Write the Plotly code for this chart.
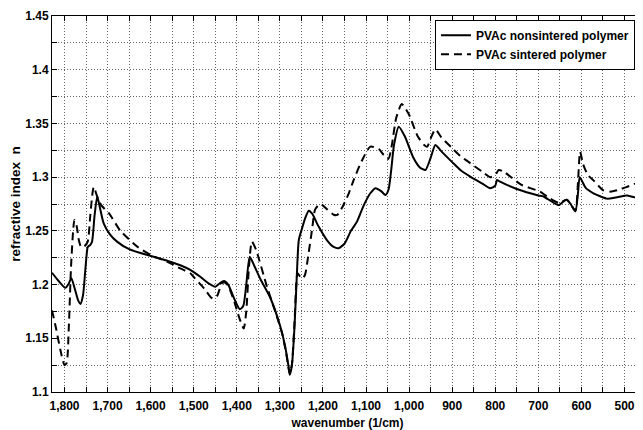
import plotly.graph_objects as go

# ---------------- data ----------------
wn_nonsintered = [1829, 1815, 1798, 1790, 1784, 1776, 1768, 1763, 1757, 1752, 1749, 1746, 1740, 1736,
                  1730, 1724, 1718, 1709, 1695, 1678, 1650, 1600, 1560, 1531, 1508, 1484, 1465, 1450,
                  1440, 1430, 1420, 1405, 1393, 1385, 1378, 1370, 1360, 1345, 1322, 1299, 1288, 1280,
                  1277, 1272, 1266, 1261, 1256, 1248, 1241, 1233, 1225, 1210, 1190, 1175, 1164, 1150,
                  1135, 1121, 1105, 1090, 1078, 1065, 1055, 1048, 1042, 1035, 1024, 1010, 990, 975,
                  962, 950, 939, 925, 900, 881, 858, 830, 812, 800, 796, 790, 750, 700, 688, 653, 640,
                  634, 625, 614, 608, 604, 598, 590, 572, 541, 520, 494, 475, 457]
n_nonsintered = [1.211, 1.204, 1.197, 1.201, 1.206, 1.196, 1.185, 1.182, 1.190, 1.212, 1.226, 1.235, 1.237, 1.240,
                 1.265, 1.282, 1.272, 1.257, 1.247, 1.240, 1.233, 1.2266, 1.222, 1.218, 1.2136, 1.207, 1.201, 1.198,
                 1.201, 1.2033, 1.200, 1.186, 1.177, 1.180, 1.200, 1.226, 1.218, 1.205, 1.1875, 1.161, 1.143, 1.124,
                 1.116, 1.125, 1.161, 1.205, 1.2415, 1.253, 1.262, 1.2688, 1.266, 1.254, 1.241, 1.235, 1.2338, 1.238,
                 1.250, 1.2586, 1.274, 1.285, 1.2897, 1.287, 1.2834, 1.288, 1.305, 1.330, 1.347, 1.338, 1.318, 1.309,
                 1.3067, 1.318, 1.330, 1.324, 1.314, 1.3067, 1.3005, 1.294, 1.2897, 1.292, 1.2974, 1.296, 1.289, 1.283, 1.282, 1.274, 1.278,
                 1.279, 1.275, 1.268, 1.285, 1.300, 1.296, 1.290, 1.285, 1.280, 1.281, 1.283, 1.281, 1.279]

wn_sintered = [1829, 1820, 1810, 1800, 1795, 1790, 1785, 1780, 1777, 1772, 1766, 1761, 1753, 1746, 1740,
               1735, 1732, 1725, 1715, 1697, 1670, 1631, 1600, 1560, 1531, 1508, 1500, 1475, 1460, 1454,
               1445, 1435, 1428, 1420, 1405, 1395, 1384, 1378, 1372, 1365, 1355, 1330, 1310, 1295, 1285,
               1277, 1272, 1266, 1262, 1259, 1252, 1246, 1241, 1233, 1225, 1218, 1206, 1190, 1175, 1167,
               1155, 1140, 1129, 1110, 1090, 1070, 1059, 1048, 1040, 1030, 1017, 1000, 980, 965, 958, 950,
               939, 925, 900, 881, 858, 830, 812, 800, 792, 780, 740, 696, 680, 653, 634, 614, 608, 603,
               596, 585, 572, 550, 533, 515, 494, 475, 457]
n_sintered = [1.176, 1.160, 1.140, 1.125, 1.127, 1.160, 1.215, 1.250, 1.260, 1.255, 1.240, 1.2347, 1.236, 1.240, 1.265,
              1.285, 1.291, 1.283, 1.274, 1.2664, 1.250, 1.2353, 1.2276, 1.221, 1.215, 1.2105, 1.207, 1.196, 1.188, 1.187,
              1.190, 1.201, 1.202, 1.199, 1.183, 1.170, 1.159, 1.175, 1.215, 1.240, 1.232, 1.198, 1.174, 1.155, 1.135,
              1.117, 1.126, 1.165, 1.200, 1.2105, 1.207, 1.206, 1.210, 1.230, 1.252, 1.270, 1.275, 1.270, 1.265, 1.2648,
              1.272, 1.285, 1.297, 1.315, 1.3284, 1.326, 1.3207, 1.317, 1.330, 1.355, 1.368, 1.358, 1.338, 1.330, 1.3284, 1.336,
              1.3445, 1.337, 1.327, 1.3197, 1.313, 1.305, 1.300, 1.302, 1.3067, 1.305, 1.293, 1.2865, 1.282, 1.276, 1.279, 1.269, 1.295, 1.3237,
              1.312, 1.302, 1.297, 1.288, 1.2865, 1.288, 1.291, 1.294, 1.296]

x_tickvals = [1800, 1700, 1600, 1500, 1400, 1300, 1200, 1100, 1000, 900, 800, 700, 600, 500]
x_ticktext = ["1,800", "1,700", "1,600", "1,500", "1,400", "1,300", "1,200", "1,100", "1,000",
              "900", "800", "700", "600", "500"]
y_tickvals = [1.1, 1.15, 1.2, 1.25, 1.3, 1.35, 1.4, 1.45]
y_ticktext = ["1.1", "1.15", "1.2", "1.25", "1.3", "1.35", "1.4", "1.45"]

FONT = "Liberation Sans, Arial, sans-serif"

fig = go.Figure()
fig.add_trace(go.Scatter(x=wn_nonsintered, y=n_nonsintered, mode="lines",
                         name="PVAc nonsintered polymer",
                         line=dict(color="black", width=2, shape="spline", smoothing=0.6)))
fig.add_trace(go.Scatter(x=wn_sintered, y=n_sintered, mode="lines",
                         name="PVAc sintered polymer",
                         line=dict(color="black", width=2, dash="8px,5px", shape="spline", smoothing=0.6)))

grid = dict(showgrid=True, gridcolor="#666666", gridwidth=1, griddash="1px,2px")

# the page body has an 8px margin, so the figure is 8px smaller and margins shifted
fig.update_layout(
    width=635, height=422,
    margin=dict(l=44, r=0, t=8, b=38),
    paper_bgcolor="white", plot_bgcolor="white",
    font=dict(family=FONT, size=12, color="black"),
    showlegend=True,
    legend=dict(x=0.648, y=0.99, xanchor="left", yanchor="top",
                bgcolor="white", bordercolor="black", borderwidth=1,
                font=dict(family=FONT, size=12, color="black", weight="bold"),
                tracegroupgap=0, itemwidth=30),
    xaxis=dict(range=[1829, 457], tickvals=x_tickvals, ticktext=x_ticktext,
               ticks="inside", ticklen=5, tickcolor="black",
               showline=True, linecolor="black", linewidth=1, mirror="ticks",
               automargin=False, ticklabelstandoff=3,
               minor=dict(dtick=50, tick0=0, ticks="inside", ticklen=5, tickcolor="black", **grid),
               tickfont=dict(family=FONT, size=12, color="black", weight="bold"),
               title=dict(text="wavenumber (1/cm)", standoff=6,
                          font=dict(family=FONT, size=12, color="black", weight="bold")),
               zeroline=False, **grid),
    yaxis=dict(range=[1.1, 1.45], tickvals=y_tickvals, ticktext=y_ticktext,
               ticks="inside", ticklen=5, tickcolor="black",
               showline=True, linecolor="black", linewidth=1, mirror="ticks",
               automargin=False,
               minor=dict(dtick=0.025, tick0=1.1, ticks="inside", ticklen=5, tickcolor="black", **grid),
               tickfont=dict(family=FONT, size=12, color="black", weight="bold"),
               title=dict(text="refractive index\u00a0\u00a0n", standoff=4,
                          font=dict(family=FONT, size=13.5, color="black", weight="bold")),
               zeroline=False, **grid),
)

fig.write_html("out.html")
